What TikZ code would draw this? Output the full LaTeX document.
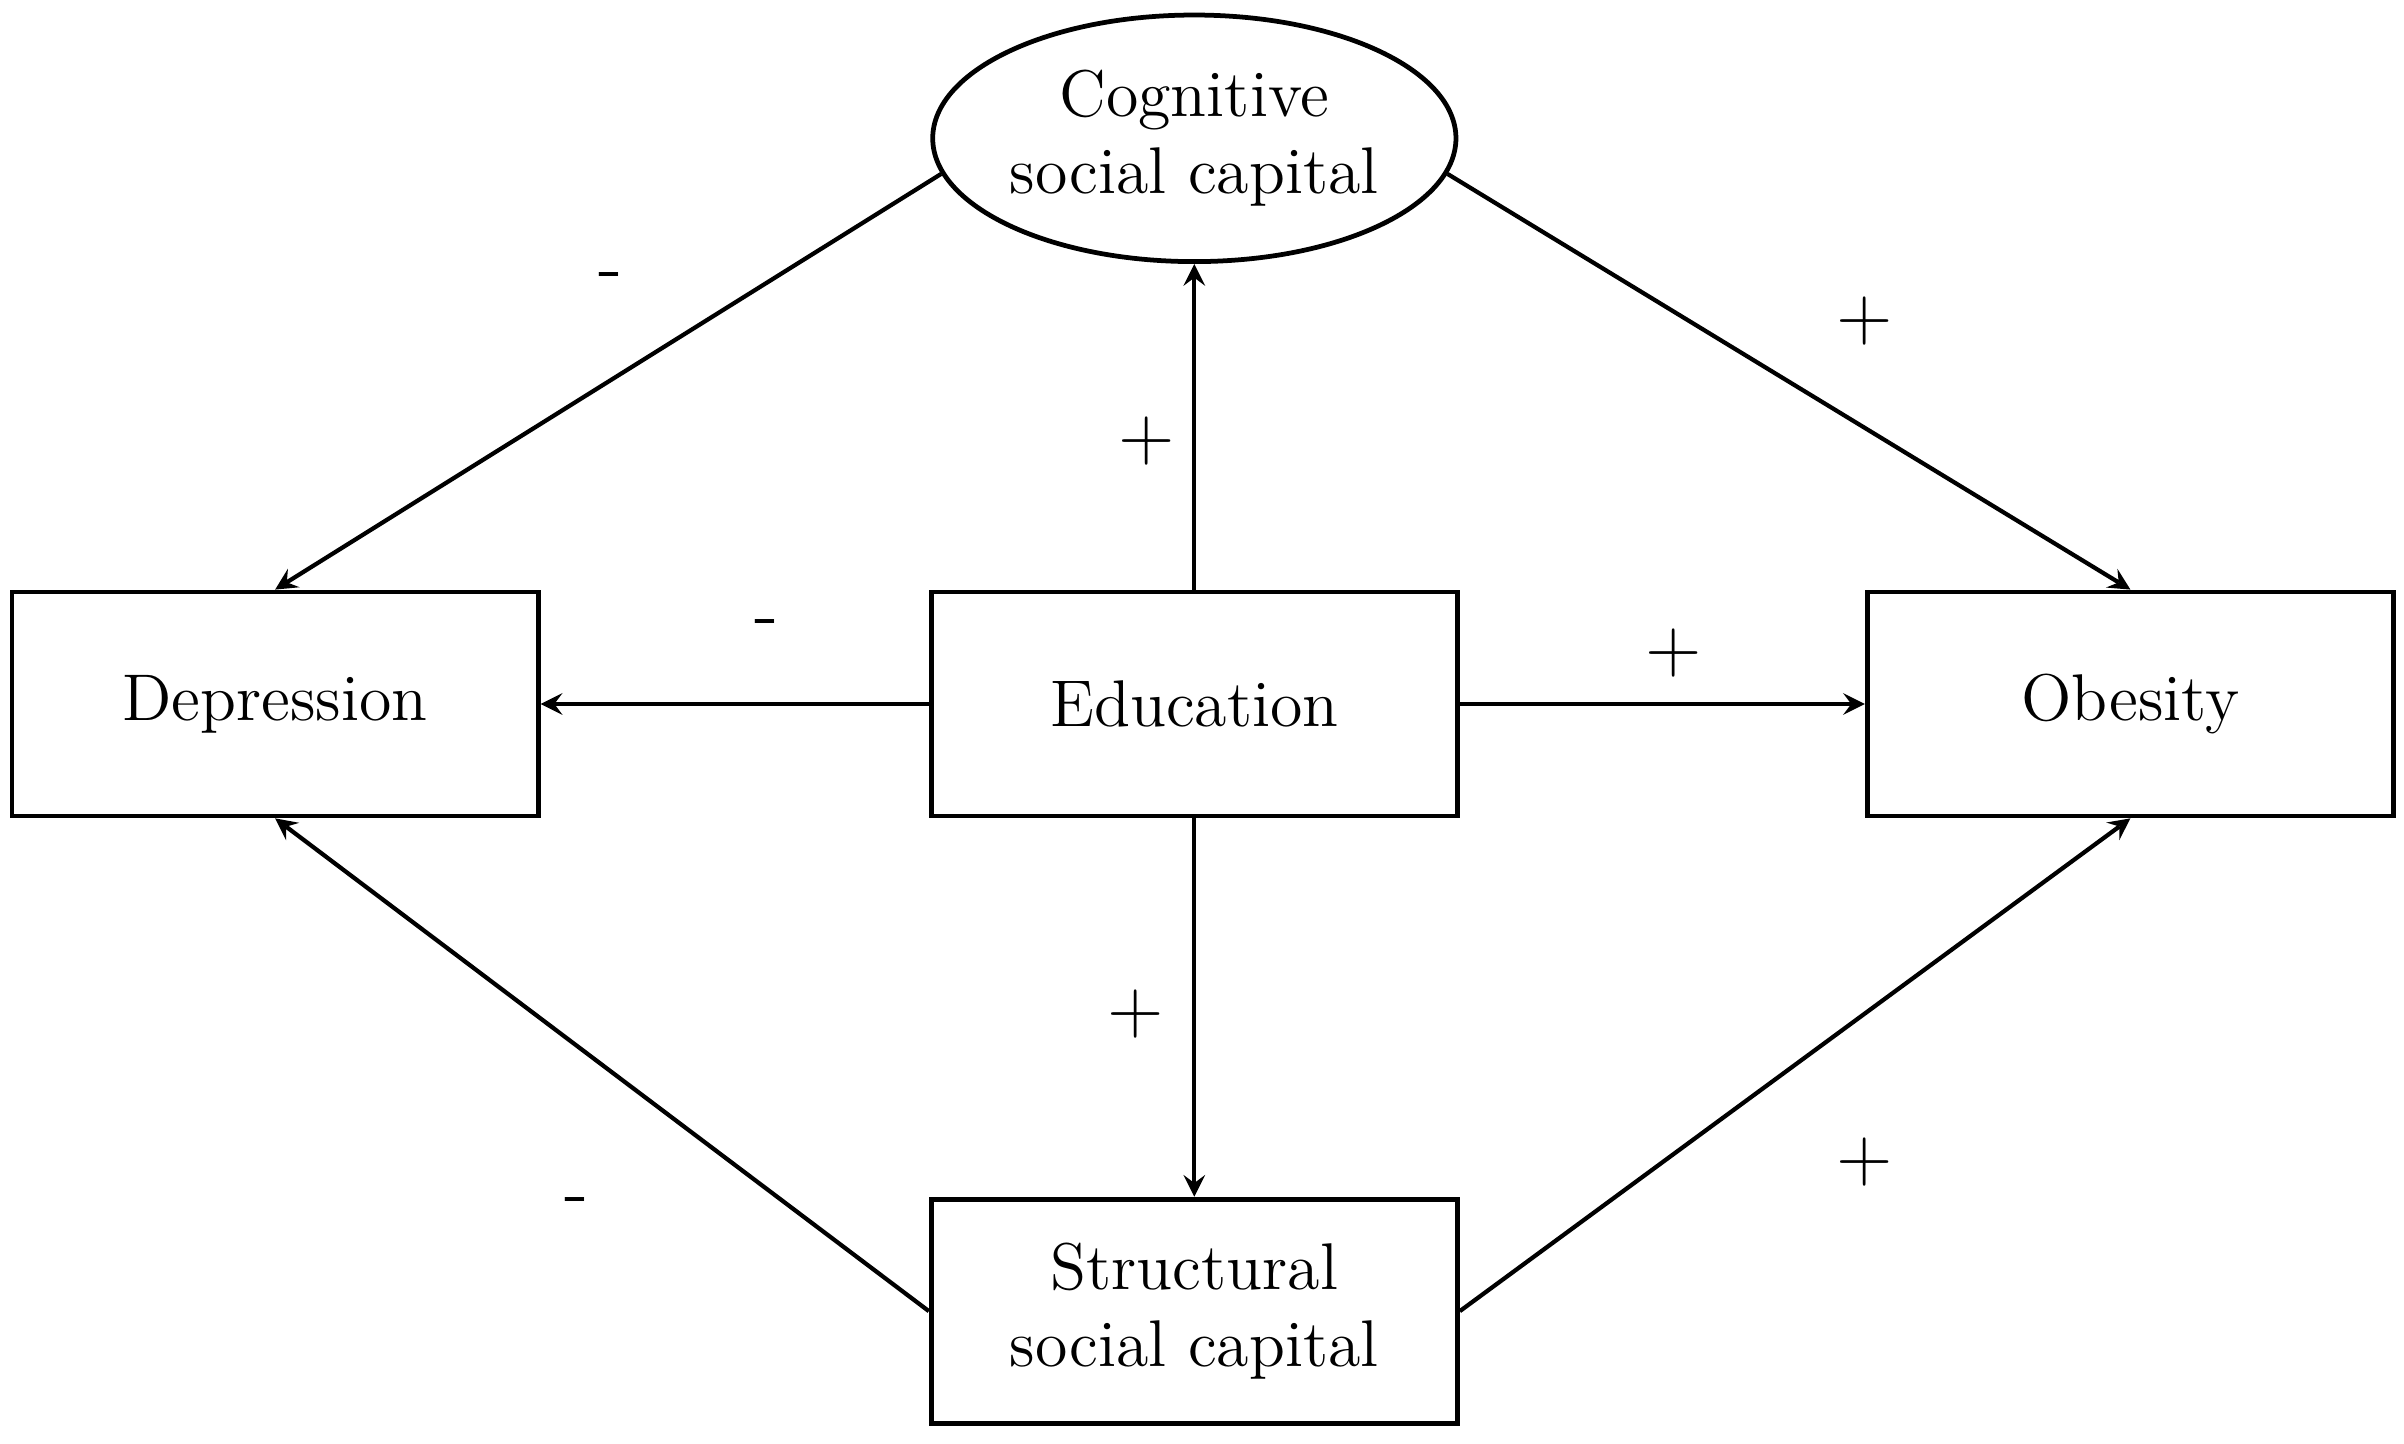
\documentclass[tikz,border=0pt]{standalone}
\usepackage{tikz}
\usetikzlibrary{shapes,arrows,positioning}

\begin{document}
\begin{tikzpicture}[x=0.01023cm, y=-0.01023cm, font=\fontsize{12.5}{14.5}\selectfont]
    % Define styles
    \tikzstyle{box} = [rectangle, draw, line width=0.9pt, minimum width=3.5cm, minimum height=1.49cm, text centered, align=center]
    \tikzstyle{latent} = [ellipse, draw, line width=0.9pt, minimum width=3.48cm, minimum height=1.64cm, align=center, inner sep=0pt]
    \tikzstyle{arrow} = [line width=0.8pt,->,>=stealth]
    \tikzstyle{sign} = [font=\fontsize{14}{16}\selectfont]
    \useasboundingbox (0,0) rectangle (1564,939);

    % Constructs
    \node [latent] (cognitive) at (777,90) {Cognitive\\social capital};
    \node [box] (education) at (777,458) {Education};
    \node [box] (depression) at (179,458) {Depression};
    \node [box] (obesity) at (1386,458) {Obesity};
    \node [box] (structural) at (777,853) {Structural\\social capital};

    % Arrows
    \draw [arrow] (cognitive.188) -- (depression.north);
    \draw [arrow] (cognitive.352) -- (obesity.north);
    \draw [arrow] (education.north) -- (cognitive.south);
    \draw [arrow] (education.west) -- (depression.east);
    \draw [arrow] (education.east) -- (obesity.west);
    \draw [arrow] (education.south) -- (structural.north);
    \draw [arrow] (structural.west) -- (depression.south);
    \draw [arrow] (structural.east) -- (obesity.south);

    % Signs
    \node [sign] at (397,183) {-};
    \node [sign] at (1213,209) {+};
    \node [sign] at (746,287) {+};
    \node [sign] at (499,409) {-};
    \node [sign] at (1089,425) {+};
    \node [sign] at (739,660) {+};
    \node [sign] at (375,785) {-};
    \node [sign] at (1213,756) {+};
\end{tikzpicture}
\end{document}
